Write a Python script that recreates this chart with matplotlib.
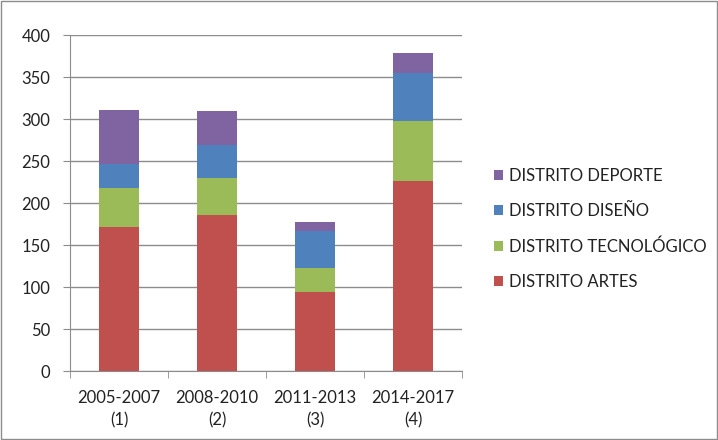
import numpy as np
import matplotlib
matplotlib.use('Agg')
from matplotlib import pyplot as plt
from matplotlib.patches import Rectangle

# Periods and district totals (stacked from the bottom up)
periods = ['2005-2007\n(1)', '2008-2010\n(2)', '2011-2013\n(3)', '2014-2017\n(4)']
artes = [172, 186, 94, 226]
tecnologico = [46, 44, 29, 72]
diseno = [28, 39, 44, 57]
deporte = [65, 40, 10, 24]

series = [
    ('DISTRITO ARTES', artes, '#C0504D'),
    ('DISTRITO TECNOLÓGICO', tecnologico, '#9BBB59'),
    ('DISTRITO DISEÑO', diseno, '#4F81BD'),
    ('DISTRITO DEPORTE', deporte, '#8064A2'),
]

plt.rcParams['font.family'] = ['Lato', 'DejaVu Sans']
fs = 12

fig = plt.figure(figsize=(7.18, 4.40), dpi=100)
ax = fig.add_axes([70 / 718, 1 - 371 / 440, 392 / 718, 336 / 440])

x = np.arange(len(periods))
bottom = np.zeros(len(periods))
handles = []
for name, vals, color in series:
    b = ax.bar(x, vals, width=0.4, bottom=bottom, color=color, label=name, zorder=3)
    bottom += np.array(vals)
    handles.append(b)

ax.set_xlim(-0.5, len(periods) - 0.5)
ax.set_ylim(0, 400)
ax.set_yticks(np.arange(0, 401, 50))
ax.yaxis.grid(True, color='#8c8c8c', linewidth=1.0, zorder=0)
ax.set_xticks(x)
ax.set_xticklabels(periods, fontsize=fs, color='#222222', linespacing=1.45)
ax.set_xticks(np.arange(-0.5, len(periods)), minor=True)
ax.tick_params(axis='x', which='major', length=0, pad=14)
ax.tick_params(axis='x', which='minor', length=5, color='#8c8c8c', direction='out')
ax.tick_params(axis='y', length=5, color='#8c8c8c', direction='out', labelsize=fs,
               labelcolor='#222222', pad=9)

for side in ['top', 'right']:
    ax.spines[side].set_visible(False)
for side in ['left', 'bottom']:
    ax.spines[side].set_color('#8c8c8c')

# Legend listed top-down in reverse stacking order
leg = fig.legend(handles[::-1], [s[0] for s in series][::-1], loc='center left',
                 bbox_to_anchor=(479 / 718, 1 - 229 / 440), frameon=False,
                 fontsize=fs, handlelength=0.55, handleheight=0.55, handletextpad=0.35,
                 labelspacing=1.15, labelcolor='#222222')

# Thin border around the whole chart
fig.patches.append(Rectangle((0.002, 0.002), 0.996, 0.996, transform=fig.transFigure,
                             fill=False, edgecolor='#8c8c8c', linewidth=1.0))

fig.savefig('out.png', dpi=100)
